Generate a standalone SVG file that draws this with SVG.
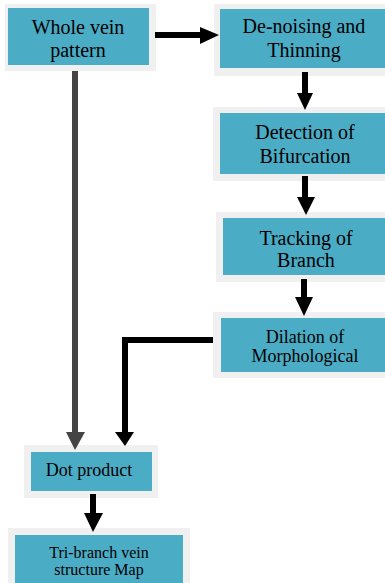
<svg xmlns="http://www.w3.org/2000/svg" width="385" height="583" viewBox="0 0 385 583">
<rect width="385" height="583" fill="#fff"/>
<g id="n1"><rect fill="#f0f0f0" x="5" y="4" width="151" height="67"/><rect fill="#4bacc6" x="8" y="8" width="141" height="57"/><text x="78" y="34" font-family="Times New Roman, Liberation Serif, serif" font-size="20" text-anchor="middle">Whole vein</text><text x="78" y="57" font-family="Times New Roman, Liberation Serif, serif" font-size="20" text-anchor="middle">pattern</text></g>
<g id="n2"><rect fill="#f0f0f0" x="214" y="4" width="171" height="72"/><rect fill="#4bacc6" x="220" y="9" width="165" height="59"/><text x="304" y="33" font-family="Times New Roman, Liberation Serif, serif" font-size="20" text-anchor="middle">De-noising and</text><text x="304" y="57" font-family="Times New Roman, Liberation Serif, serif" font-size="20" text-anchor="middle">Thinning</text></g>
<g id="n3"><rect fill="#f0f0f0" x="213" y="107" width="172" height="74"/><rect fill="#4bacc6" x="220" y="113" width="165" height="61"/><text x="305" y="139" font-family="Times New Roman, Liberation Serif, serif" font-size="20" text-anchor="middle">Detection of</text><text x="305" y="163" font-family="Times New Roman, Liberation Serif, serif" font-size="20" text-anchor="middle">Bifurcation</text></g>
<g id="n4"><rect fill="#f0f0f0" x="216" y="212" width="169" height="70"/><rect fill="#4bacc6" x="223" y="218" width="162" height="57"/><text x="306" y="245" font-family="Times New Roman, Liberation Serif, serif" font-size="20" text-anchor="middle">Tracking of</text><text x="306" y="267" font-family="Times New Roman, Liberation Serif, serif" font-size="20" text-anchor="middle">Branch</text></g>
<g id="n5"><rect fill="#f0f0f0" x="213" y="312" width="172" height="66"/><rect fill="#4bacc6" x="221" y="318" width="164" height="54"/><text x="305" y="343" font-family="Times New Roman, Liberation Serif, serif" font-size="18" text-anchor="middle">Dilation of</text><text x="305" y="362" font-family="Times New Roman, Liberation Serif, serif" font-size="18" text-anchor="middle">Morphological</text></g>
<g id="n6"><rect fill="#f0f0f0" x="24" y="445" width="134" height="53"/><rect fill="#4bacc6" x="31" y="452" width="121" height="39"/><text x="89" y="476" font-family="Times New Roman, Liberation Serif, serif" font-size="18" text-anchor="middle">Dot product</text></g>
<g id="n7"><rect fill="#f0f0f0" x="8" y="528" width="182" height="55"/><rect fill="#4bacc6" x="15" y="535" width="168" height="48"/><text x="99" y="558" font-family="Times New Roman, Liberation Serif, serif" font-size="16" text-anchor="middle">Tri-branch vein</text><text x="99" y="575" font-family="Times New Roman, Liberation Serif, serif" font-size="16" text-anchor="middle">structure Map</text></g>
<g id="connectors" stroke-width="6" fill="none">
<line stroke="#000" x1="155" y1="35" x2="201" y2="35"/><polygon fill="#000" points="200,27 219,35 200,44"/>
<line stroke="#000" x1="305" y1="72" x2="305" y2="94"/><polygon fill="#000" points="297,93 313,93 305,110"/>
<line stroke="#000" x1="305" y1="176" x2="305" y2="198"/><polygon fill="#000" points="297,197 315,197 306,215"/>
<line stroke="#000" x1="304" y1="279" x2="304" y2="298"/><polygon fill="#000" points="295,297 313,297 304,316"/>
<polyline stroke="#000" points="213,340 125,340 125,433"/><polygon fill="#000" points="115,432 134,432 125,446"/>
<line stroke="#444" x1="75" y1="71" x2="75" y2="433"/><polygon fill="#444" points="66,432 85,432 75,450"/>
<line stroke="#000" x1="93" y1="494" x2="93" y2="514"/><polygon fill="#000" points="84,513 103,513 93,532"/>
</g>
</svg>
